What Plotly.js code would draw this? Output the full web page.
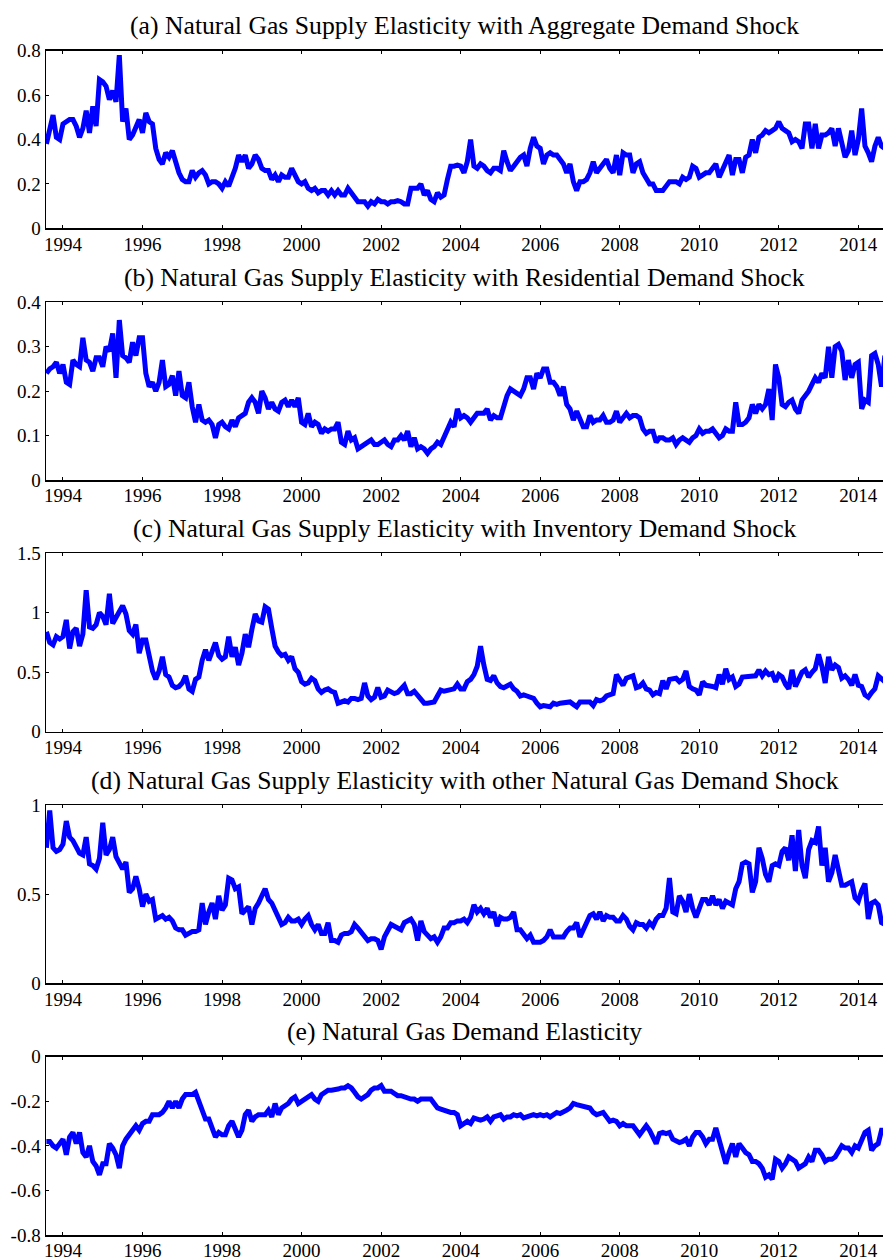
<!DOCTYPE html>
<html>
<head>
<meta charset="utf-8">
<script src="https://cdn.plot.ly/plotly-3.0.1.min.js"></script>
<style>
html,body{margin:0;padding:0;background:#fff;}
#chart{width:883px;height:1260px;}
</style>
</head>
<body>
<div id="chart"></div>
<script>
// Monthly observations, August 1993 to September 2014
const startYear = 1993;
const startMonth = 8;

const titles = [
  '(a) Natural Gas Supply Elasticity with Aggregate Demand Shock',
  '(b) Natural Gas Supply Elasticity with Residential Demand Shock',
  '(c) Natural Gas Supply Elasticity with Inventory Demand Shock',
  '(d) Natural Gas Supply Elasticity with other Natural Gas Demand Shock',
  '(e) Natural Gas Demand Elasticity'
];

const xTickVals = [1994, 1996, 1998, 2000, 2002, 2004, 2006, 2008, 2010, 2012, 2014];
const xTickText = ['1994', '1996', '1998', '2000', '2002', '2004', '2006', '2008', '2010', '2012', '2014'];

const yTickValsA = [0, 0.2, 0.4, 0.6, 0.8];
const yTickTextA = ['0', '0.2', '0.4', '0.6', '0.8'];
const yTickValsB = [0, 0.1, 0.2, 0.3, 0.4];
const yTickTextB = ['0', '0.1', '0.2', '0.3', '0.4'];
const yTickValsC = [0, 0.5, 1, 1.5];
const yTickTextC = ['0', '0.5', '1', '1.5'];
const yTickValsD = [0, 0.5, 1];
const yTickTextD = ['0', '0.5', '1'];
const yTickValsE = [-0.8, -0.6, -0.4, -0.2, 0];
const yTickTextE = ['-0.8', '-0.6', '-0.4', '-0.2', '0'];

const aggregateShock = [
  0.38, 0.46, 0.51, 0.41, 0.40,
  0.47, 0.48, 0.49, 0.49, 0.46, 0.41, 0.45, 0.53, 0.43, 0.55, 0.46, 0.67,
  0.66, 0.64, 0.58, 0.62, 0.57, 0.78, 0.48, 0.54, 0.40, 0.42, 0.45, 0.49,
  0.43, 0.52, 0.48, 0.47, 0.36, 0.31, 0.29, 0.34, 0.32, 0.35, 0.30, 0.25,
  0.22, 0.21, 0.21, 0.26, 0.23, 0.25, 0.26, 0.24, 0.20, 0.21, 0.21, 0.20,
  0.18, 0.21, 0.19, 0.23, 0.27, 0.33, 0.30, 0.33, 0.27, 0.29, 0.33, 0.31,
  0.27, 0.26, 0.26, 0.22, 0.24, 0.21, 0.24, 0.23, 0.23, 0.27, 0.24, 0.21,
  0.20, 0.21, 0.18, 0.17, 0.18, 0.16, 0.17, 0.17, 0.15, 0.17, 0.15, 0.17,
  0.15, 0.15, 0.18, 0.16, 0.14, 0.12, 0.12, 0.12, 0.10, 0.12, 0.11, 0.13,
  0.12, 0.12, 0.11, 0.12, 0.12, 0.125, 0.12, 0.11, 0.11, 0.18, 0.18, 0.18,
  0.20, 0.15, 0.17, 0.13, 0.12, 0.16, 0.14, 0.15, 0.22, 0.28, 0.28, 0.285,
  0.28, 0.25, 0.30, 0.40, 0.28, 0.27, 0.29, 0.28, 0.26, 0.25, 0.27, 0.27,
  0.26, 0.35, 0.30, 0.26, 0.28, 0.30, 0.32, 0.33, 0.28, 0.36, 0.41, 0.37,
  0.36, 0.29, 0.33, 0.34, 0.33, 0.33, 0.31, 0.29, 0.25, 0.29, 0.21, 0.17,
  0.21, 0.21, 0.22, 0.25, 0.30, 0.25, 0.27, 0.29, 0.31, 0.27, 0.25, 0.33,
  0.24, 0.34, 0.33, 0.33, 0.25, 0.29, 0.30, 0.25, 0.22, 0.20, 0.20, 0.17,
  0.17, 0.17, 0.19, 0.21, 0.21, 0.21, 0.20, 0.23, 0.22, 0.23, 0.28, 0.27,
  0.23, 0.24, 0.25, 0.25, 0.27, 0.29, 0.23, 0.26, 0.30, 0.33, 0.24, 0.31,
  0.31, 0.25, 0.32, 0.33, 0.40, 0.34, 0.41, 0.42, 0.44, 0.43, 0.44, 0.45,
  0.48, 0.45, 0.44, 0.43, 0.39, 0.40, 0.39, 0.36, 0.47, 0.47, 0.36, 0.47,
  0.36, 0.42, 0.42, 0.43, 0.45, 0.37, 0.45, 0.38, 0.32, 0.35, 0.44, 0.33,
  0.40, 0.54, 0.37, 0.34, 0.30, 0.37, 0.41, 0.37, 0.36
];

const residentialShock = [
  0.24, 0.25, 0.255, 0.265, 0.24,
  0.26, 0.22, 0.215, 0.27, 0.26, 0.255, 0.32, 0.27, 0.265, 0.245, 0.275, 0.275,
  0.255, 0.30, 0.29, 0.33, 0.23, 0.36, 0.28, 0.275, 0.265, 0.31, 0.28, 0.32,
  0.32, 0.24, 0.21, 0.22, 0.20, 0.22, 0.27, 0.21, 0.215, 0.235, 0.19, 0.245,
  0.19, 0.185, 0.22, 0.165, 0.13, 0.17, 0.135, 0.13, 0.135, 0.125, 0.095, 0.125,
  0.13, 0.12, 0.115, 0.135, 0.12, 0.14, 0.145, 0.15, 0.175, 0.185, 0.175, 0.15,
  0.20, 0.185, 0.16, 0.175, 0.16, 0.155, 0.175, 0.18, 0.165, 0.18, 0.165, 0.185,
  0.13, 0.125, 0.15, 0.12, 0.13, 0.125, 0.105, 0.115, 0.11, 0.115, 0.115, 0.13,
  0.085, 0.08, 0.11, 0.09, 0.095, 0.07, 0.075, 0.08, 0.085, 0.09, 0.08, 0.08,
  0.085, 0.09, 0.08, 0.075, 0.09, 0.09, 0.10, 0.09, 0.11, 0.075, 0.095, 0.07,
  0.075, 0.07, 0.06, 0.07, 0.075, 0.085, 0.08, 0.095, 0.11, 0.13, 0.12, 0.16,
  0.14, 0.145, 0.14, 0.13, 0.14, 0.15, 0.15, 0.15, 0.16, 0.135, 0.145, 0.14,
  0.14, 0.17, 0.19, 0.205, 0.20, 0.195, 0.19, 0.205, 0.23, 0.23, 0.205, 0.24,
  0.23, 0.25, 0.25, 0.22, 0.22, 0.21, 0.19, 0.21, 0.17, 0.16, 0.135, 0.155,
  0.14, 0.12, 0.12, 0.145, 0.13, 0.135, 0.135, 0.145, 0.13, 0.13, 0.135, 0.155,
  0.13, 0.14, 0.15, 0.14, 0.145, 0.145, 0.14, 0.115, 0.105, 0.11, 0.11, 0.085,
  0.095, 0.095, 0.09, 0.09, 0.095, 0.08, 0.09, 0.095, 0.09, 0.085, 0.095, 0.10,
  0.115, 0.105, 0.11, 0.11, 0.115, 0.105, 0.095, 0.10, 0.115, 0.11, 0.11, 0.175,
  0.125, 0.125, 0.13, 0.14, 0.17, 0.15, 0.17, 0.16, 0.17, 0.205, 0.135, 0.26,
  0.23, 0.17, 0.165, 0.175, 0.18, 0.16, 0.15, 0.18, 0.19, 0.20, 0.215, 0.23,
  0.22, 0.24, 0.23, 0.30, 0.23, 0.30, 0.305, 0.29, 0.225, 0.27, 0.23, 0.26,
  0.265, 0.16, 0.18, 0.175, 0.28, 0.285, 0.26, 0.21, 0.28
];

const inventoryShock = [
  0.84, 0.75, 0.73, 0.80, 0.78,
  0.80, 0.94, 0.70, 0.84, 0.87, 0.72, 0.82, 1.19, 0.88, 0.87, 0.90, 1.00,
  0.97, 0.90, 1.16, 0.91, 0.96, 1.02, 1.06, 0.99, 0.85, 0.82, 0.90, 0.66,
  0.77, 0.77, 0.64, 0.51, 0.44, 0.51, 0.63, 0.48, 0.46, 0.39, 0.37, 0.38,
  0.41, 0.47, 0.36, 0.34, 0.44, 0.46, 0.60, 0.69, 0.60, 0.68, 0.75, 0.64,
  0.61, 0.63, 0.80, 0.63, 0.71, 0.56, 0.66, 0.82, 0.71, 0.86, 0.99, 0.93,
  0.92, 1.05, 1.03, 0.87, 0.72, 0.67, 0.64, 0.65, 0.60, 0.63, 0.53, 0.50,
  0.42, 0.40, 0.41, 0.45, 0.43, 0.36, 0.33, 0.35, 0.36, 0.34, 0.33, 0.24,
  0.25, 0.26, 0.25, 0.28, 0.28, 0.27, 0.28, 0.41, 0.30, 0.27, 0.29, 0.37,
  0.29, 0.30, 0.35, 0.33, 0.32, 0.33, 0.36, 0.39, 0.32, 0.32, 0.34, 0.31,
  0.27, 0.24, 0.24, 0.24, 0.25, 0.30, 0.35, 0.34, 0.35, 0.35, 0.36, 0.40,
  0.36, 0.36, 0.42, 0.44, 0.48, 0.55, 0.72, 0.56, 0.44, 0.43, 0.47, 0.41,
  0.38, 0.37, 0.38, 0.40, 0.36, 0.34, 0.30, 0.31, 0.30, 0.29, 0.28, 0.24,
  0.21, 0.22, 0.22, 0.21, 0.24, 0.23, 0.24, 0.24, 0.24, 0.25, 0.23, 0.21,
  0.25, 0.25, 0.25, 0.25, 0.22, 0.27, 0.26, 0.27, 0.30, 0.31, 0.32, 0.48,
  0.44, 0.39, 0.45, 0.46, 0.47, 0.37, 0.38, 0.41, 0.36, 0.35, 0.31, 0.33,
  0.32, 0.43, 0.36, 0.44, 0.45, 0.45, 0.42, 0.44, 0.51, 0.38, 0.36, 0.35,
  0.31, 0.42, 0.39, 0.39, 0.38, 0.37, 0.48, 0.40, 0.53, 0.44, 0.46, 0.38,
  0.40, 0.46, 0.46, 0.47, 0.47, 0.47, 0.52, 0.47, 0.51, 0.48, 0.49, 0.42,
  0.48, 0.46, 0.40, 0.36, 0.52, 0.38, 0.44, 0.50, 0.52, 0.46, 0.50, 0.53,
  0.65, 0.55, 0.41, 0.63, 0.52, 0.56, 0.54, 0.45, 0.47, 0.44, 0.39, 0.48,
  0.39, 0.38, 0.31, 0.29, 0.33, 0.36, 0.47, 0.44, 0.42
];

const otherGasShock = [
  0.76, 0.97, 0.76, 0.74, 0.75,
  0.78, 0.91, 0.82, 0.80, 0.76, 0.73, 0.72, 0.82, 0.67, 0.66, 0.64, 0.70,
  0.90, 0.72, 0.75, 0.82, 0.71, 0.67, 0.64, 0.68, 0.51, 0.53, 0.60, 0.53,
  0.43, 0.50, 0.46, 0.47, 0.36, 0.37, 0.38, 0.36, 0.37, 0.35, 0.31, 0.30,
  0.30, 0.27, 0.28, 0.29, 0.29, 0.30, 0.45, 0.33, 0.40, 0.45, 0.36, 0.49,
  0.41, 0.44, 0.59, 0.58, 0.53, 0.54, 0.39, 0.41, 0.43, 0.33, 0.42, 0.45,
  0.49, 0.53, 0.47, 0.45, 0.41, 0.37, 0.33, 0.34, 0.37, 0.35, 0.35, 0.36,
  0.33, 0.36, 0.38, 0.33, 0.30, 0.33, 0.28, 0.28, 0.34, 0.24, 0.24, 0.23,
  0.27, 0.28, 0.28, 0.29, 0.33, 0.31, 0.29, 0.26, 0.24, 0.25, 0.25, 0.24,
  0.19, 0.26, 0.30, 0.33, 0.32, 0.31, 0.30, 0.34, 0.35, 0.36, 0.33, 0.24,
  0.35, 0.29, 0.27, 0.25, 0.26, 0.23, 0.26, 0.31, 0.31, 0.34, 0.34, 0.35,
  0.35, 0.36, 0.34, 0.37, 0.44, 0.40, 0.42, 0.39, 0.42, 0.37, 0.40, 0.32,
  0.37, 0.36, 0.36, 0.37, 0.40, 0.30, 0.30, 0.27, 0.25, 0.27, 0.23, 0.23,
  0.23, 0.24, 0.26, 0.30, 0.26, 0.26, 0.26, 0.26, 0.29, 0.31, 0.31, 0.34,
  0.26, 0.30, 0.34, 0.38, 0.39, 0.36, 0.40, 0.35, 0.38, 0.37, 0.37, 0.35,
  0.35, 0.38, 0.36, 0.32, 0.30, 0.34, 0.33, 0.33, 0.31, 0.34, 0.32, 0.36,
  0.38, 0.38, 0.42, 0.59, 0.40, 0.39, 0.49, 0.46, 0.40, 0.50, 0.42, 0.37,
  0.42, 0.47, 0.47, 0.44, 0.49, 0.44, 0.47, 0.42, 0.46, 0.45, 0.44, 0.53,
  0.57, 0.67, 0.68, 0.67, 0.51, 0.57, 0.76, 0.70, 0.61, 0.57, 0.66, 0.67,
  0.66, 0.74, 0.76, 0.69, 0.83, 0.63, 0.86, 0.66, 0.59, 0.75, 0.80, 0.79,
  0.88, 0.66, 0.76, 0.57, 0.62, 0.72, 0.62, 0.55, 0.55, 0.56, 0.57, 0.48,
  0.46, 0.52, 0.56, 0.36, 0.45, 0.46, 0.44, 0.34, 0.33
];

const demandElasticity = [
  -0.38, -0.38, -0.40, -0.41, -0.39,
  -0.37, -0.44, -0.36, -0.34, -0.39, -0.34, -0.43, -0.45, -0.40, -0.47, -0.49, -0.53,
  -0.48, -0.48, -0.39, -0.41, -0.44, -0.50, -0.40, -0.37, -0.35, -0.33, -0.31, -0.33,
  -0.30, -0.29, -0.29, -0.26, -0.26, -0.26, -0.25, -0.23, -0.20, -0.23, -0.20, -0.23,
  -0.19, -0.17, -0.17, -0.17, -0.16, -0.20, -0.25, -0.28, -0.28, -0.32, -0.36, -0.34,
  -0.35, -0.35, -0.31, -0.29, -0.33, -0.36, -0.33, -0.26, -0.24, -0.29, -0.27, -0.26,
  -0.26, -0.26, -0.24, -0.27, -0.21, -0.26, -0.23, -0.22, -0.21, -0.19, -0.18, -0.21,
  -0.20, -0.19, -0.18, -0.17, -0.19, -0.20, -0.17, -0.16, -0.15, -0.15, -0.15, -0.145,
  -0.14, -0.14, -0.13, -0.14, -0.16, -0.18, -0.19, -0.18, -0.17, -0.15, -0.14, -0.14,
  -0.13, -0.155, -0.155, -0.155, -0.165, -0.175, -0.175, -0.18, -0.19, -0.19, -0.19, -0.20,
  -0.19, -0.19, -0.19, -0.19, -0.21, -0.23, -0.235, -0.24, -0.25, -0.25, -0.25, -0.26,
  -0.31, -0.30, -0.29, -0.30, -0.275, -0.28, -0.285, -0.28, -0.27, -0.29, -0.27, -0.265,
  -0.26, -0.28, -0.27, -0.27, -0.26, -0.265, -0.26, -0.275, -0.27, -0.265, -0.26, -0.265,
  -0.26, -0.265, -0.26, -0.27, -0.26, -0.25, -0.255, -0.25, -0.24, -0.23, -0.21, -0.215,
  -0.22, -0.225, -0.225, -0.23, -0.25, -0.26, -0.255, -0.25, -0.27, -0.29, -0.285, -0.29,
  -0.31, -0.30, -0.31, -0.31, -0.31, -0.33, -0.35, -0.33, -0.31, -0.33, -0.36, -0.39,
  -0.345, -0.34, -0.345, -0.34, -0.37, -0.38, -0.385, -0.38, -0.37, -0.40, -0.36, -0.34,
  -0.34, -0.36, -0.39, -0.37, -0.37, -0.32, -0.38, -0.42, -0.48, -0.43, -0.39, -0.45,
  -0.39, -0.41, -0.43, -0.44, -0.47, -0.47, -0.48, -0.50, -0.54, -0.53, -0.55, -0.46,
  -0.47, -0.50, -0.48, -0.45, -0.46, -0.47, -0.50, -0.49, -0.48, -0.45, -0.47, -0.42,
  -0.42, -0.44, -0.47, -0.46, -0.46, -0.45, -0.42, -0.40, -0.41, -0.41, -0.43, -0.40,
  -0.41, -0.38, -0.34, -0.33, -0.42, -0.40, -0.39, -0.33, -0.33
];

// ---------- drawing ----------
const W = 883, H = 1260;
const FONT = 'Liberation Serif';

const series = [aggregateShock, residentialShock, inventoryShock, otherGasShock, demandElasticity];
const yRanges = [[0, 0.8], [0, 0.4], [0, 1.5], [0, 1], [-0.8, 0]];
const yTickVals = [yTickValsA, yTickValsB, yTickValsC, yTickValsD, yTickValsE];
const yTickText = [yTickTextA, yTickTextB, yTickTextC, yTickTextD, yTickTextE];
// panel frame top/bottom in pixels
const frames = [[50.7, 228.3], [302.3, 480], [553.3, 731.7], [805, 983.3], [1056.7, 1235]];

function months(n) {
  const out = [];
  for (let i = 0; i < n; i++) out.push(startYear + (startMonth - 1 + i) / 12);
  return out;
}

const data = [];
const layout = {
  width: W, height: H,
  margin: {l: 46, r: 0, t: 0, b: 0},
  paper_bgcolor: '#fff', plot_bgcolor: '#fff',
  showlegend: false,
  font: {family: FONT, size: 19, color: '#000'},
  annotations: []
};

series.forEach((vals, k) => {
  const sfx = k === 0 ? '' : String(k + 1);
  data.push({
    type: 'scatter', mode: 'lines',
    x: months(vals.length), y: vals,
    xaxis: 'x' + sfx, yaxis: 'y' + sfx,
    line: {color: '#0000ff', width: 5},
    hoverinfo: 'skip'
  });
  const [tp, bp] = frames[k];
  const dom = [(H - bp) / H, (H - tp) / H];
  layout['xaxis' + sfx] = {
    domain: [0, 1], anchor: 'y' + sfx,
    range: [1993.573, 2014.62],
    tickvals: xTickVals, ticktext: xTickText,
    ticks: 'inside', ticklen: 3, tickwidth: 1, tickcolor: '#000',
    showline: true, linecolor: '#000', linewidth: 1.5, mirror: 'ticks',
    showgrid: false, zeroline: false,
    ticklabelstandoff: -2,
    tickfont: {family: FONT, size: 19, color: '#000'}
  };
  layout['yaxis' + sfx] = {
    domain: dom, anchor: 'x' + sfx,
    range: yRanges[k],
    tickvals: yTickVals[k], ticktext: yTickText[k],
    ticks: 'inside', ticklen: 3, tickwidth: 1, tickcolor: '#000',
    showline: true, linecolor: '#000', linewidth: 1.5, mirror: false,
    showgrid: false, zeroline: false,
    tickfont: {family: FONT, size: 19, color: '#000'}
  };
  layout.annotations.push({
    text: titles[k], showarrow: false,
    xref: 'paper', yref: 'paper', x: 0.5, xanchor: 'center',
    y: (H - (tp - 25)) / H, yanchor: 'middle',
    font: {family: FONT, size: 25.7, color: '#000'}
  });
});

Plotly.newPlot('chart', data, layout, {staticPlot: true, displayModeBar: false});
</script>
</body>
</html>
